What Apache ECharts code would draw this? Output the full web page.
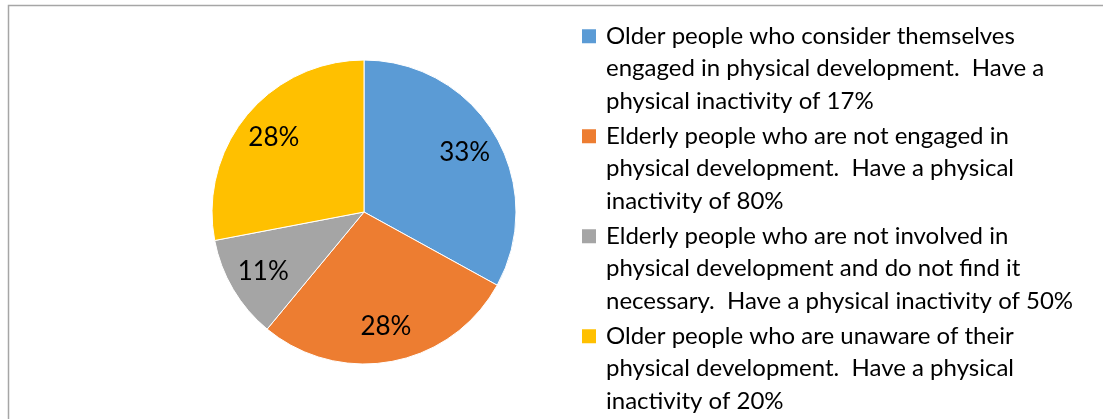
<!doctype html>
<html>
<head>
    <meta charset="utf-8">
    <script src="https://cdn.jsdelivr.net/npm/echarts@6/dist/echarts.min.js"></script>
</head>
<body style="margin: 0">
    <div id="container" style="width: 1103px; height: 419px"></div>
    <script type="text/javascript">
        // slice names (one per legend entry) and their shares
        var categories = [
            'Older people who consider themselves engaged in physical development.  Have a physical inactivity of 17%',
            'Elderly people who are not engaged in physical development.  Have a physical inactivity of 80%',
            'Elderly people who are not involved in physical development and do not find it necessary.  Have a physical inactivity of 50%',
            'Older people who are unaware of their physical development.  Have a physical inactivity of 20%'
        ];
        var values = [33, 28, 11, 28];
        // how the legend text wraps in the original
        var legendLines = [
            ['Older people who consider themselves', 'engaged in physical development.  Have a', 'physical inactivity of 17%'],
            ['Elderly people who are not engaged in', 'physical development.  Have a physical', 'inactivity of 80%'],
            ['Elderly people who are not involved in', 'physical development and do not find it', 'necessary.  Have a physical inactivity of 50%'],
            ['Older people who are unaware of their', 'physical development.  Have a physical', 'inactivity of 20%']
        ];
        var colors = ['#5B9BD5', '#ED7D31', '#A5A5A5', '#FFC000'];

        var pieData = categories.map(function (name, i) {
            return { name: name, value: values[i] };
        });

        var myChart = echarts.init(document.getElementById('container'));
        var option = {
            animation: false,
            color: colors,
            graphic: [{
                type: 'rect',
                shape: { x: 8.5, y: 5.5, width: 1200, height: 600 },
                style: { fill: 'none', stroke: '#a6a6a6', lineWidth: 1.5 },
                silent: true
            }],
            legend: {
                orient: 'vertical',
                left: 582,
                top: 20,
                padding: 0,
                itemGap: 2.5,
                itemWidth: 19,
                itemHeight: 97.5,
                icon: 'path://M0,0M0,9.25H14V23.25H0ZM19,97.5',
                itemStyle: { borderWidth: 0 },
                selectedMode: false,
                data: categories,
                formatter: function (name) {
                    return legendLines[categories.indexOf(name)].join('\n');
                },
                textStyle: {
                    fontFamily: 'Lato',
                    fontSize: 24,
                    lineHeight: 32.5,
                    color: '#000'
                }
            },
            series: [
                {
                    type: 'pie',
                    center: [364, 212],
                    radius: [0, 152],
                    startAngle: 90,
                    clockwise: true,
                    label: { show: false },
                    labelLine: { show: false },
                    itemStyle: { borderColor: '#fff', borderWidth: 1 },
                    emphasis: { disabled: true },
                    data: pieData
                },
                {
                    // transparent ring, only used to place the labels near 3/4 of the radius
                    type: 'pie',
                    center: [364, 212],
                    radius: [76, 152],
                    startAngle: 90,
                    clockwise: true,
                    silent: true,
                    itemStyle: { color: 'transparent', borderWidth: 0 },
                    label: {
                        show: true,
                        position: 'inside',
                        formatter: '{d}%',
                        fontFamily: 'Lato',
                        fontSize: 26,
                        padding: [6, 0, 0, 0],
                        color: '#000'
                    },
                    labelLine: { show: false },
                    emphasis: { disabled: true },
                    data: pieData
                }
            ]
        };
        myChart.setOption(option);
    </script>
</body>
</html>
